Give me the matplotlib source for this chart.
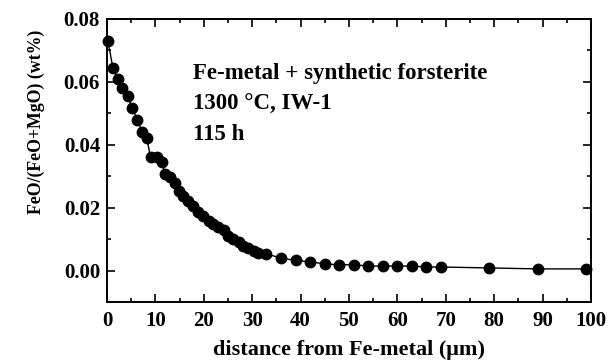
import matplotlib
matplotlib.use("Agg")
import matplotlib.pyplot as plt
from matplotlib.ticker import MultipleLocator

plt.rcParams['font.family'] = ['Liberation Serif', 'DejaVu Serif']
plt.rcParams['font.weight'] = 'bold'

# Diffusion profile: distance from the Fe-metal interface and FeO/(FeO+MgO)
distance_um = [0.2, 1.2, 2.2, 3.2, 4.3, 5.1, 6.3, 7.2, 8.2, 9.0, 10.3, 11.3, 12.0,
               13.0, 14.1, 14.9, 15.8, 16.8, 17.8, 18.9, 19.9, 21.0, 22.0, 23.0,
               24.1, 25.1, 26.1, 27.2, 28.2, 29.2, 30.3, 31.3, 32.9,
               36.0, 39.0, 42.0, 45.0, 48.0, 51.0, 54.0, 57.0, 60.0, 63.0, 66.0,
               69.0, 79.0, 89.0, 99.0]
feo_ratio = [0.073, 0.0645, 0.061, 0.058, 0.0555, 0.0518, 0.048, 0.0442, 0.0423,
             0.036, 0.036, 0.0344, 0.0307, 0.0297, 0.028, 0.0254, 0.0238, 0.0222,
             0.0207, 0.0186, 0.0175, 0.0159, 0.0149, 0.0138, 0.0128, 0.0112,
             0.0101, 0.0091, 0.008, 0.0072, 0.0062, 0.0057, 0.0054,
             0.004, 0.0033, 0.0028, 0.0022, 0.0019, 0.0019, 0.0015, 0.0015,
             0.0015, 0.0015, 0.0012, 0.0012, 0.0009, 0.0006, 0.0006]

x_ticks = [0, 10, 20, 30, 40, 50, 60, 70, 80, 90, 100]
y_ticks = [0.00, 0.02, 0.04, 0.06, 0.08]

annotation_lines = ["Fe-metal + synthetic forsterite", "1300 \u00b0C, IW-1", "115 h"]

fig = plt.figure(figsize=(6.08, 3.62), dpi=100)
ax = fig.add_axes([0.176, 0.165, 0.796, 0.783])

ax.plot(distance_um, feo_ratio, color='black', lw=1.0, marker='o',
        markersize=7.5, markerfacecolor='black', markeredgecolor='black',
        clip_on=False, zorder=3)

ax.set_xlim(0, 100)
ax.set_ylim(-0.01, 0.08)
ax.set_xticks(x_ticks)
ax.set_xticklabels([str(t) for t in x_ticks])
ax.set_yticks(y_ticks)
ax.set_yticklabels([f"{t:.2f}" for t in y_ticks])
ax.xaxis.set_minor_locator(MultipleLocator(5))
ax.yaxis.set_minor_locator(MultipleLocator(0.01))

ax.tick_params(which='both', direction='in', top=True, right=True, width=1.2,
               labelsize=15)
ax.tick_params(axis='x', which='major', pad=6)
ax.tick_params(axis='y', which='major', pad=5)
ax.tick_params(which='major', length=6)
ax.tick_params(which='minor', length=3)
for lab in ax.get_xticklabels() + ax.get_yticklabels():
    lab.set_fontweight('bold')

for sp in ax.spines.values():
    sp.set_linewidth(1.4)

ax.set_xlabel("distance from Fe-metal (\u03bcm)", fontsize=16, fontweight='bold',
              labelpad=7)
ax.set_ylabel("FeO/(FeO+MgO) (wt%)", fontsize=12.8, fontweight='bold')
ax.yaxis.set_label_coords(-0.129, 0.636)

for i, line in enumerate(annotation_lines):
    ax.text(0.178, 0.806 - i * 0.107, line, transform=ax.transAxes, fontsize=16.5,
            fontweight='bold', va='center', ha='left')

fig.savefig("out.png", dpi=100)
